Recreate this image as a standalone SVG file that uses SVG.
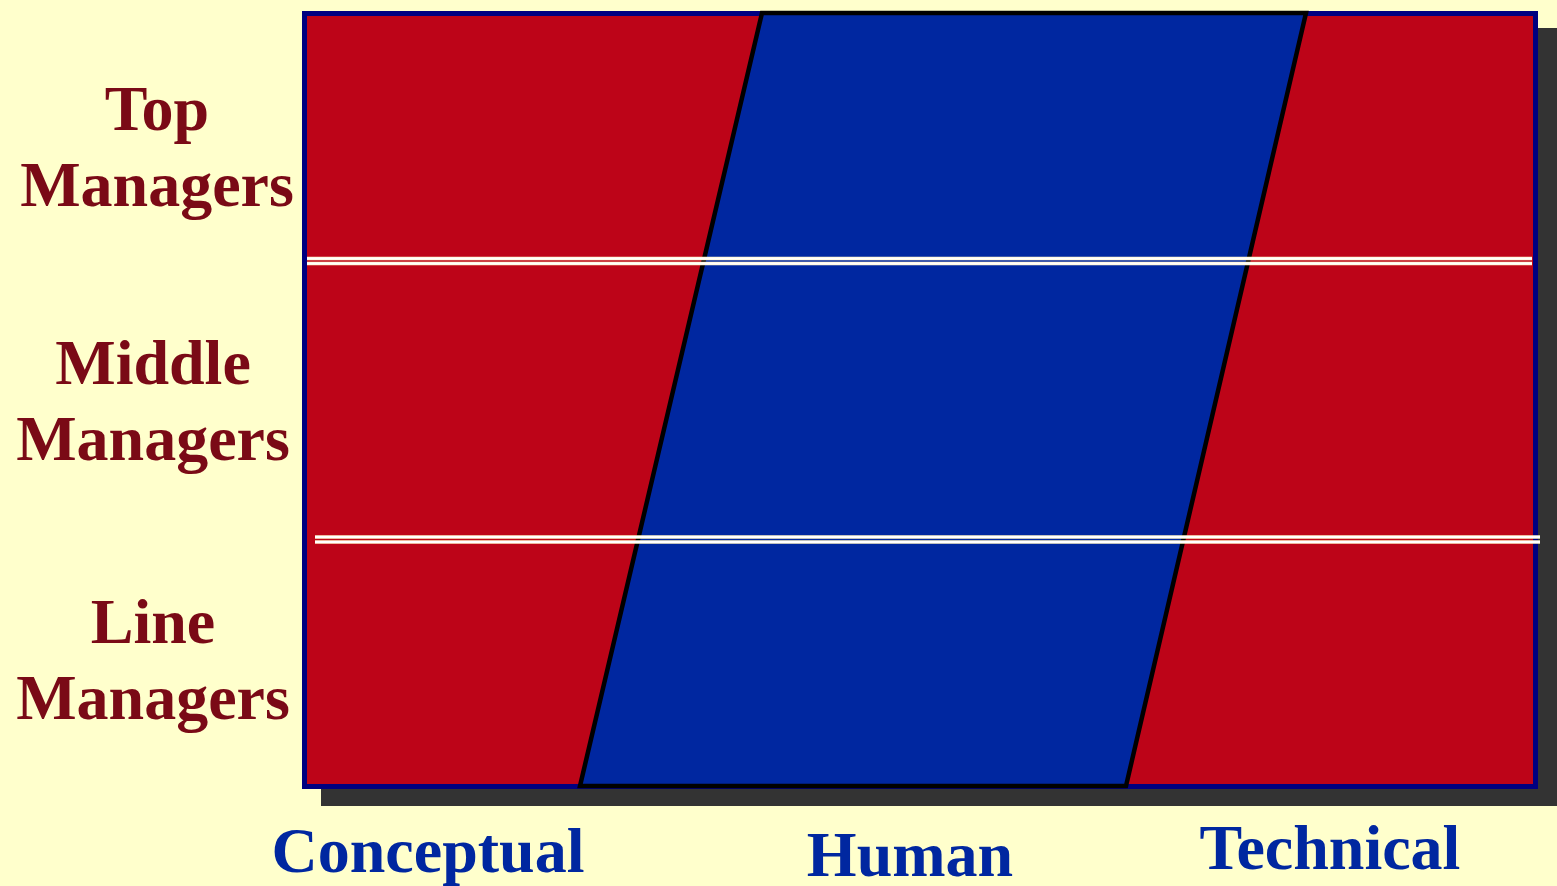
<svg xmlns="http://www.w3.org/2000/svg" width="1557" height="886" viewBox="0 0 1557 886">
  <style>
    .row { font-family: "Liberation Serif", "Times New Roman", serif; font-weight: bold; font-size: 64px; fill: #7A0A16; text-anchor: middle; }
    .col { font-family: "Liberation Serif", "Times New Roman", serif; font-weight: bold; font-size: 64px; fill: #0027A0; text-anchor: middle; }
    .sep { stroke: #FFFFFF; stroke-width: 2; }
    .sep-edge { stroke: #FFF5C8; stroke-width: 3.5; }
  </style>
  <rect x="0" y="0" width="1557" height="886" fill="#FFFFCC"/>

  <!-- drop shadow and chart frame -->
  <g id="frame">
    <rect x="321" y="28" width="1240" height="778" fill="#333333"/>
    <rect x="304.5" y="13.5" width="1231" height="773" fill="#BD0418" stroke="#000080" stroke-width="5"/>
  </g>

  <!-- human skills band -->
  <g id="human-band">
    <polygon points="762,13 1306,13 1126,786 580,786" fill="#0027A0" stroke="#000000" stroke-width="4.5" stroke-linejoin="miter"/>
  </g>

  <!-- level separators -->
  <g id="separators">
    <line class="sep-edge" x1="307" y1="258.5" x2="1532" y2="258.5"/>
    <line class="sep-edge" x1="307" y1="263.5" x2="1532" y2="263.5"/>
    <line class="sep" x1="307" y1="258.5" x2="1532" y2="258.5"/>
    <line class="sep" x1="307" y1="263.5" x2="1532" y2="263.5"/>
    <line class="sep-edge" x1="315" y1="537" x2="1540" y2="537"/>
    <line class="sep-edge" x1="315" y1="542" x2="1540" y2="542"/>
    <line class="sep" x1="315" y1="537" x2="1540" y2="537"/>
    <line class="sep" x1="315" y1="542" x2="1540" y2="542"/>
  </g>

  <g id="label-top">
    <text class="row" x="157" y="130">Top</text>
    <text class="row" x="157" y="206">Managers</text>
  </g>
  <g id="label-middle">
    <text class="row" x="153" y="384">Middle</text>
    <text class="row" x="153" y="460">Managers</text>
  </g>
  <g id="label-line">
    <text class="row" x="153" y="643">Line</text>
    <text class="row" x="153" y="719">Managers</text>
  </g>

  <g id="label-conceptual"><text class="col" x="428" y="872">Conceptual</text></g>
  <g id="label-human"><text class="col" x="910" y="876">Human</text></g>
  <g id="label-technical"><text class="col" x="1330" y="869">Technical</text></g>
</svg>
